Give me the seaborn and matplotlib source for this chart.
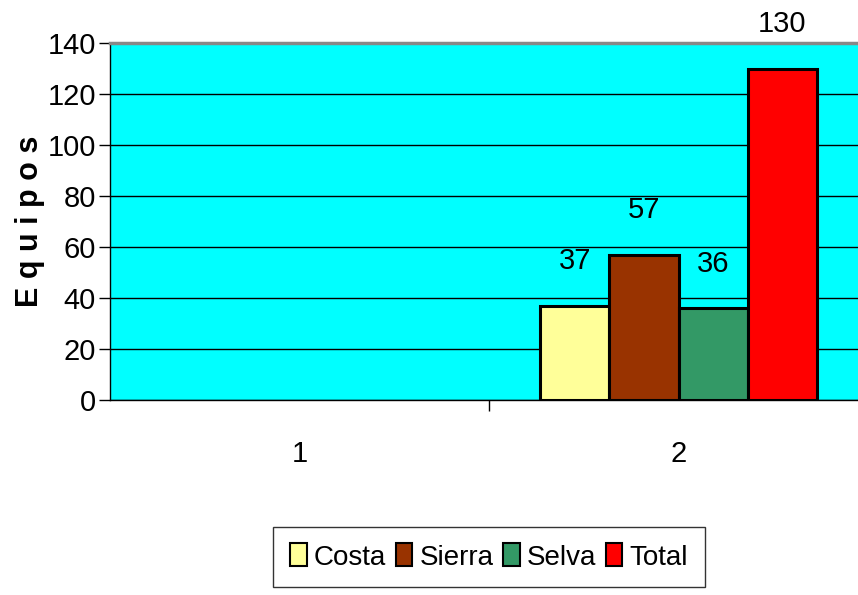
import pandas as pd
import numpy as np
import matplotlib.pyplot as plt
import seaborn as sns
from matplotlib.ticker import FixedLocator

# datos del gráfico
grupos = ["1", "2"]
regiones = ["Costa", "Sierra", "Selva", "Total"]
valores_1 = [np.nan, np.nan, np.nan, np.nan]
valores_2 = [37, 57, 36, 130]
colores = ["#FFFF99", "#993300", "#339966", "#FF0000"]

sns.set_style("white")
plt.rcParams['font.family'] = ['Liberation Sans Narrow', 'Liberation Sans', 'DejaVu Sans']
plt.rcParams['text.color'] = 'black'
plt.rcParams['xtick.color'] = 'black'
plt.rcParams['ytick.color'] = 'black'
plt.rcParams['axes.labelcolor'] = 'black'

df = pd.DataFrame({
    "grupo": ["1"] * 4 + ["2"] * 4,
    "region": regiones * 2,
    "equipos": valores_1 + valores_2,
})

fig = plt.figure(figsize=(8.58, 5.95), dpi=100)
ax = fig.add_axes([110 / 858, 1 - 400 / 595, 758 / 858, 357 / 595])
ax.set_facecolor("#00FFFF")

sns.barplot(data=df, x="grupo", y="equipos", hue="region", order=grupos,
            hue_order=regiones, palette=colores, width=0.73,
            edgecolor="black", linewidth=2.2, saturation=1, ax=ax, zorder=3)

for cont in ax.containers:
    ax.bar_label(cont, fmt="%g", padding=22, fontsize=21, color="black")

ax.set_ylim(0, 140)
ax.set_xlim(-0.5, 1.5)
ax.set_yticks(range(0, 141, 20))
ax.yaxis.grid(True, color="black", linewidth=1, zorder=1)
ax.set_axisbelow(True)

ax.tick_params(axis="y", direction="out", length=8, width=1, labelsize=21, pad=2, left=True)
ax.tick_params(axis="x", which="major", length=0, labelsize=21, pad=29)
ax.xaxis.set_minor_locator(FixedLocator([0.5]))
ax.tick_params(axis="x", which="minor", direction="out", length=8, width=1, bottom=True)

ax.set_xlabel("")
ax.set_ylabel("E q u i p o s", fontsize=22, fontweight="bold", labelpad=2)

for s in ["left", "bottom"]:
    ax.spines[s].set_color("black")
    ax.spines[s].set_linewidth(1)
ax.spines["top"].set_color("#888888")
ax.spines["top"].set_linewidth(2.5)
ax.spines["right"].set_visible(False)

leg = ax.legend(loc="upper center", bbox_to_anchor=(0.5, -0.355), ncol=4,
                fontsize=20, frameon=True, fancybox=False, edgecolor="black",
                handlelength=0.6, handleheight=0.9, handletextpad=0.25,
                columnspacing=0.35, borderpad=0.6, borderaxespad=0)
leg.get_frame().set_linewidth(1)
for h in leg.legend_handles:
    h.set_edgecolor("black")
    h.set_linewidth(1.5)

fig.savefig("out.png", dpi=100)
